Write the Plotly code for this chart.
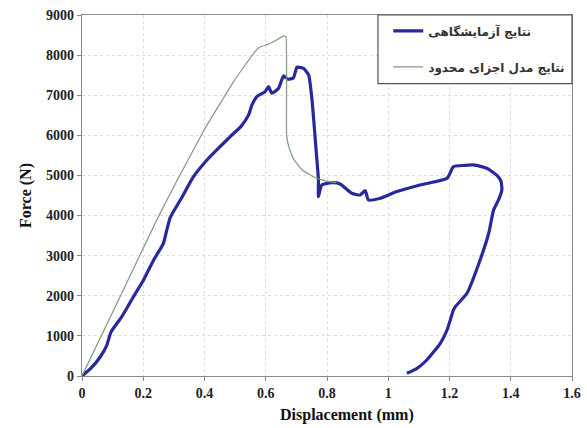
import plotly.graph_objects as go

# Experimental force-displacement curve (mm, N)
exp_disp = [0.0, 0.03, 0.06, 0.08, 0.095, 0.13, 0.168, 0.201, 0.234, 0.266, 0.277, 0.288,
            0.326, 0.364, 0.408, 0.44, 0.484, 0.52, 0.544, 0.555, 0.571, 0.598, 0.609, 0.62,
            0.642, 0.658, 0.672, 0.69, 0.702, 0.713, 0.723, 0.74, 0.751, 0.767, 0.772, 0.772,
            0.783, 0.816, 0.843, 0.881, 0.908, 0.925, 0.935, 0.974, 1.028, 1.104, 1.192,
            1.213, 1.25, 1.279, 1.322, 1.355, 1.368, 1.371, 1.36, 1.344, 1.328, 1.3, 1.257,
            1.219, 1.213, 1.192, 1.17, 1.126, 1.094, 1.061]
exp_force = [0, 200, 480, 750, 1100, 1480, 1977, 2394, 2893, 3309, 3641, 3950,
             4450, 4970, 5386, 5636, 5968, 6230, 6509, 6758, 6966, 7090, 7215, 7050,
             7174, 7481, 7400, 7430, 7700, 7690, 7673, 7507, 6883, 5386, 4888, 4471,
             4763, 4820, 4788, 4556, 4514, 4620, 4389, 4431, 4597, 4763, 4930,
             5220, 5250, 5262, 5179, 5000, 4860, 4638, 4389, 4140, 3559, 2893, 2062,
             1729, 1646, 1147, 815, 399, 192, 67]

# Finite element model curve (mm, N)
fe_disp = [0.0, 0.125, 0.25, 0.31, 0.4, 0.495, 0.56, 0.58, 0.605, 0.63, 0.658, 0.666,
           0.668, 0.675, 0.69, 0.72, 0.76, 0.8, 0.83]
fe_force = [0, 1990, 3980, 4870, 6150, 7340, 8040, 8200, 8260, 8350, 8480, 8460,
            6000, 5720, 5420, 5130, 4950, 4860, 4820]

x_ticks = [0, 0.2, 0.4, 0.6, 0.8, 1, 1.2, 1.4, 1.6]
x_tick_text = ["0", "0.2", "0.4", "0.6", "0.8", "1", "1.2", "1.4", "1.6"]
y_ticks = [0, 1000, 2000, 3000, 4000, 5000, 6000, 7000, 8000, 9000]

exp_name = "نتایج آزمایشگاهی"
fe_name = "نتایج مدل اجزای محدود"

fig = go.Figure()
fig.add_trace(go.Scatter(x=exp_disp, y=exp_force, mode="lines", name=f"<b>{exp_name}</b>",
                         legendgroup="a",
                         line=dict(color="#28289e", width=3.2, shape="spline", smoothing=0.5)))
fig.add_trace(go.Scatter(x=fe_disp, y=fe_force, mode="lines", name=f"<b>{fe_name}</b>",
                         legendgroup="b",
                         line=dict(color="#7f9a7f", width=1.2, shape="spline", smoothing=0.3)))

serif = "Liberation Serif"
axis_common = dict(showline=True, linecolor="#8a8a8a", linewidth=1.2, mirror=True,
                   showgrid=True, gridcolor="#dedede", griddash="dot", gridwidth=1,
                   ticks="outside", ticklen=4, tickcolor="#8a8a8a", zeroline=False,
                   tickfont=dict(family=serif, size=14, color="#222"))

fig.update_layout(
    width=587, height=428,
    margin=dict(l=82, r=15, t=15, b=52, autoexpand=False),
    paper_bgcolor="white", plot_bgcolor="white",
    font=dict(family=serif, color="#222"),
    showlegend=True,
    legend=dict(x=0.625, y=0.996, xanchor="left", yanchor="top",
                bgcolor="rgba(0,0,0,0)", borderwidth=0,
                tracegroupgap=17, itemwidth=30,
                font=dict(family="DejaVu Sans", size=12, color="#333")),
    shapes=[dict(type="rect", xref="paper", yref="paper", x0=0.604, x1=1.0,
                 y0=0.81, y1=1.0, line=dict(color="#555", width=1.2),
                 fillcolor="white", layer="above")],
    annotations=[dict(text="<b>Displacement (mm)</b>", xref="paper", yref="paper",
                      x=(347 - 82) / 490, y=-0.108, xanchor="center", yanchor="middle",
                      showarrow=False, font=dict(family=serif, size=16, color="#111"))],
)
fig.update_xaxes(range=[0, 1.6], tickvals=x_ticks, ticktext=[f"<b>{t}</b>" for t in x_tick_text],
                 **axis_common)
fig.update_yaxes(range=[0, 9000], tickvals=y_ticks, ticktext=[f"<b>{t}</b>" for t in y_ticks],
                 title=dict(text="<b>Force (N)</b>", font=dict(family=serif, size=16, color="#111"),
                            standoff=10),
                 **axis_common)

fig.write_html("out.html")
